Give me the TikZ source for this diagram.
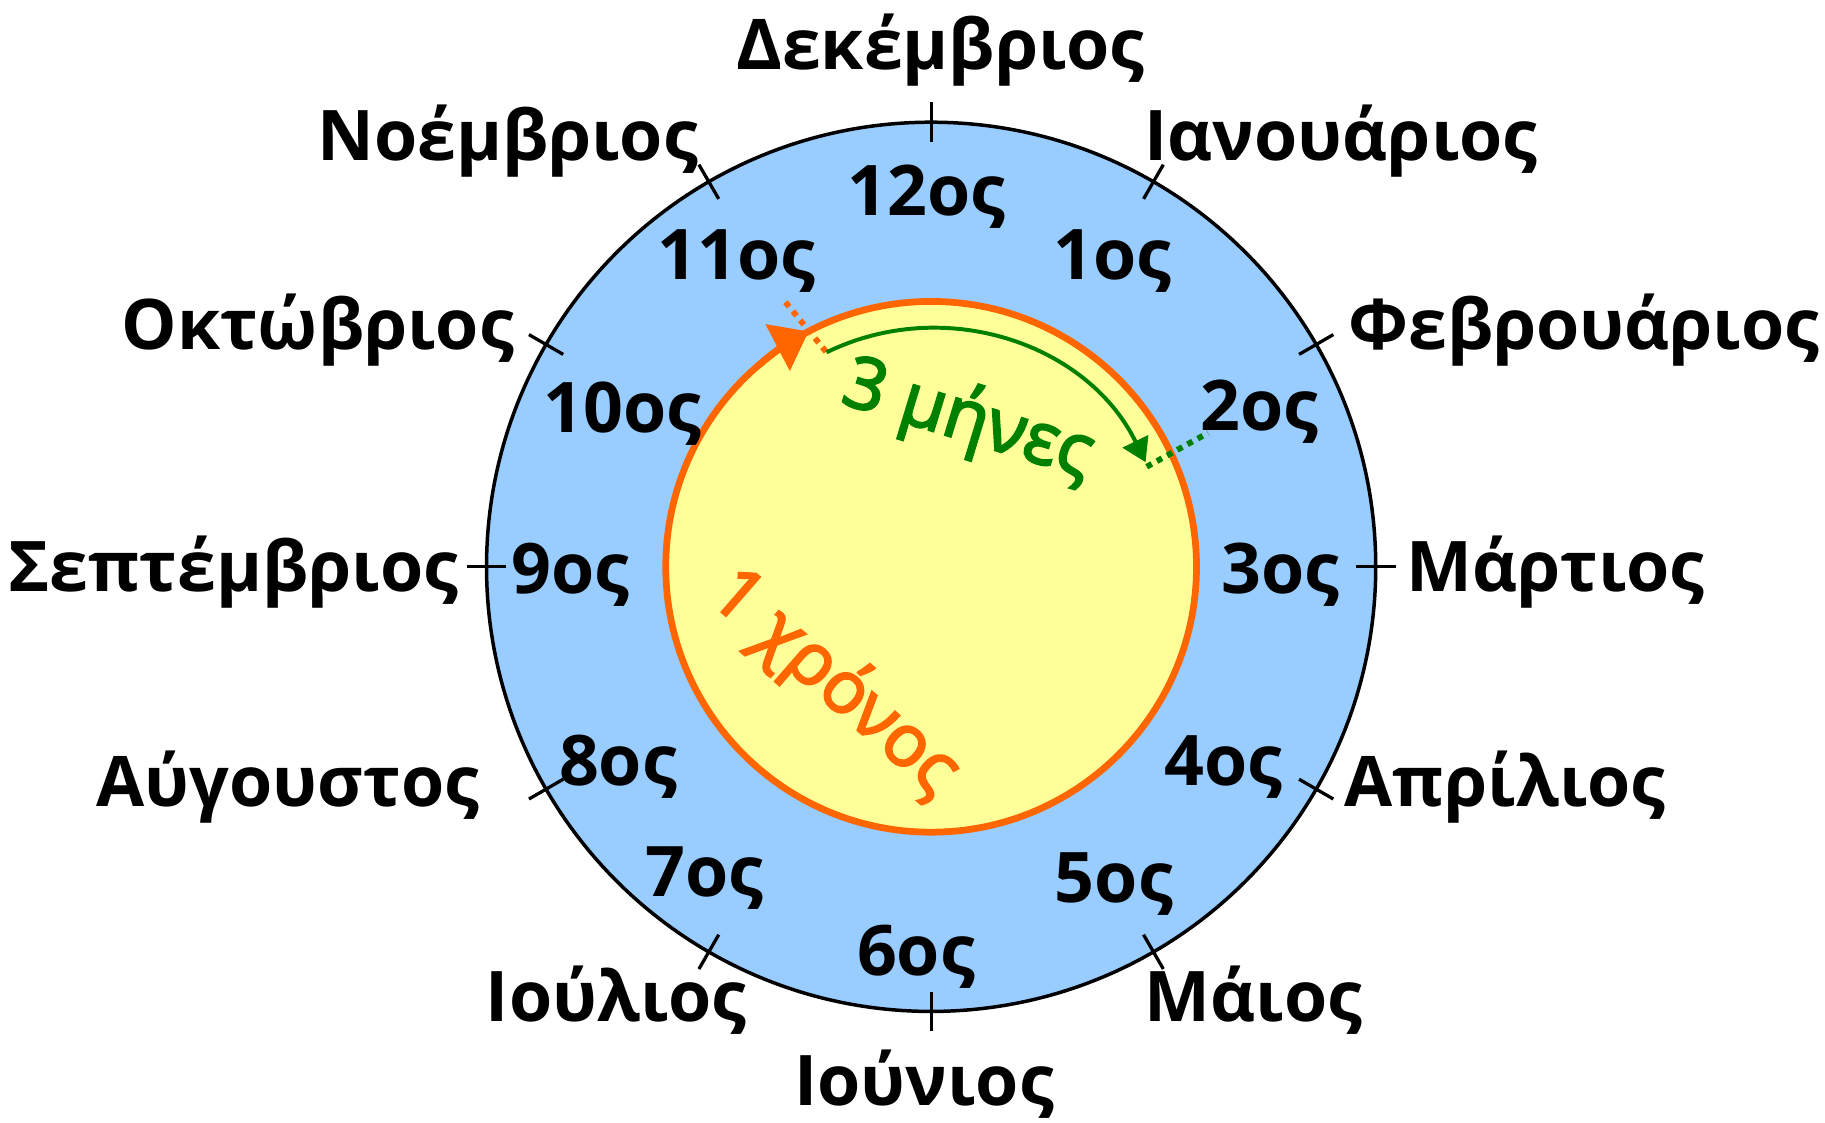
\documentclass[tikz,border=0pt]{standalone}
\usepackage{fontspec}
\setmainfont{Open Sans}
\newfontfamily\spanfont[FakeBold=3]{Open Sans}
\usetikzlibrary{arrows.meta}
\definecolor{ringblue}{HTML}{99CCFF}
\definecolor{yearyellow}{HTML}{FFFF99}
\definecolor{yearorange}{HTML}{FF6600}
\definecolor{spangreen}{HTML}{008000}
\tikzset{
  monthname/.style={font=\fontsize{30}{36}\selectfont\bfseries, inner sep=0pt},
  ordinal/.style={font=\fontsize{30}{36}\selectfont\bfseries, inner sep=0pt, anchor=base},
  spantext/.style={font=\spanfont\fontsize{31}{36}\selectfont, inner sep=0pt},
  tickmark/.style={line width=1.4pt},
  dotlink/.style={line width=2.5pt, dash pattern=on 2.5pt off 2.5pt}
}

\begin{document}
\begin{tikzpicture}[x=0.5pt, y=0.5pt]
  \useasboundingbox (0,0) rectangle (1568,964);
  \coordinate (ctr) at (800,477);

  % ring of months
  \draw[line width=1.5pt, fill=ringblue] (ctr) circle[radius=382];
  \foreach \a in {0,30,...,330}
    \draw[tickmark] ([shift={(ctr)}]\a:365) -- ([shift={(ctr)}]\a:399);

  % one year
  \draw[yearorange, line width=2.9pt, fill=yearyellow] (ctr) circle[radius=228];
  \draw[yearorange, line width=2.9pt, -{Triangle[length=15pt, width=22pt]}] ([shift={(ctr)}]131:228) arc[start angle=131, end angle=117.5, radius=228];

  % three months
  \coordinate (gstart) at (709.7,661.8);
  \coordinate (gout) at (674.5,704.8);
  \coordinate (gend) at (985.2,563);
  \coordinate (gfar) at (1037.9,592);
  \draw[yearorange, dotlink] (gstart) -- (gout);
  \draw[spangreen, line width=1.7pt, -{Triangle[length=10pt, width=12pt]}] ([shift={(ctr)}]116:205) arc[start angle=116, end angle=26, radius=205];
  \draw[spangreen, dotlink] (gend) -- (gfar);

  \node[spantext, spangreen, rotate=-17] (threem) at (831.7,602.6) {3 μήνες};
  \node[spantext, yearorange, rotate=-41] (oneyear) at (717,377) {1 χρόνος};

  % ordinals
  \node[ordinal] (o12) at (796,779) {12ος};
  \node[ordinal] (o1) at (956,724) {1ος};
  \node[ordinal] (o2) at (1082,594) {2ος};
  \node[ordinal] (o3) at (1100,454) {3ος};
  \node[ordinal] (o4) at (1051,289) {4ος};
  \node[ordinal] (o5) at (957,189) {5ος};
  \node[ordinal] (o6) at (787,126) {6ος};
  \node[ordinal] (o7) at (605,194) {7ος};
  \node[ordinal] (o8) at (531,289) {8ος};
  \node[ordinal] (o9) at (490,454) {9ος};
  \node[ordinal] (o10) at (535,592) {10ος};
  \node[ordinal] (o11) at (633,724) {11ος};

  % month names
  \node[monthname, anchor=base] (dec) at (808,904) {Δεκέμβριος};
  \node[monthname, anchor=base west] (jan) at (983,826) {Ιανουάριος};
  \node[monthname, anchor=base west] (feb) at (1158,664) {Φεβρουάριος};
  \node[monthname, anchor=base west] (mar) at (1208,456) {Μάρτιος};
  \node[monthname, anchor=base west] (apr) at (1155,271) {Απρίλιος};
  \node[monthname, anchor=base west] (may) at (983,86) {Μάιος};
  \node[monthname, anchor=base] (jun) at (794,14) {Ιούνιος};
  \node[monthname, anchor=base east] (jul) at (642,86) {Ιούλιος};
  \node[monthname, anchor=base east] (aug) at (412,271) {Αύγουστος};
  \node[monthname, anchor=base east] (sep) at (394,456) {Σεπτέμβριος};
  \node[monthname, anchor=base east] (oct) at (442,664) {Οκτώβριος};
  \node[monthname, anchor=base east] (nov) at (600,826) {Νοέμβριος};
\end{tikzpicture}
\end{document}
